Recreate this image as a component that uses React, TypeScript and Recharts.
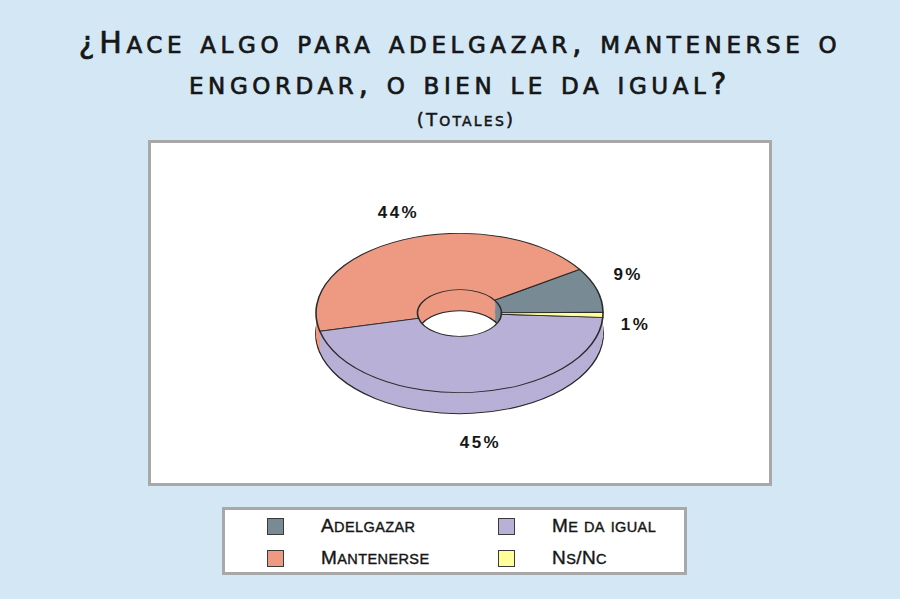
import React from "react";
import { PieChart, Pie, Cell } from "recharts";

// ─── Data ─────────────────────────────────────────────────────────────────────

const categories = ["Adelgazar", "Mantenerse", "Me da igual", "Ns/Nc"];
const values = [9, 44, 45, 1];
const colors = ["#788a94", "#ee9a82", "#b8b0d6", "#ffff99"];

const data = categories.map((name, i) => ({ name, value: values[i] }));

// ─── Tilted donut geometry ────────────────────────────────────────────────────

const K = 0.555;              // vertical squish that fakes the 3D tilt
const SVG_H = Math.ceil(599 / K);
const CX = 459.5;
const CY = 313 / K;
const OUTER = 143.5;
const INNER = 42;
const WALL = 21;              // wall thickness on screen
const DEPTH = WALL / K;

// wall layers, bottom first
const wallOffsets: number[] = [];
for (let d = DEPTH; d > 0; d -= 2) wallOffsets.push(d);

const RAD = Math.PI / 180;

// labels sit just outside the rim, above it on the upper half, below the wall on the lower half
const renderLabel = (p: any) => {
  const a = p.midAngle * RAD;
  const sn = Math.sin(a);
  const x = p.cx + 6 + 170 * Math.cos(a);
  const yScreen = sn >= 0 ? -100 * sn - 9 : -(100 + WALL) * sn + 9;
  const y = p.cy + yScreen / K;
  return (
    <g transform={`translate(${x},${y}) scale(1,${1 / K})`}>
      <text
        x={0}
        y={0}
        textAnchor="middle"
        dominantBaseline="central"
        fill="#161616"
        fontFamily="'Liberation Sans', Arial, sans-serif"
        fontWeight="bold"
        fontSize={17}
        letterSpacing={2.5}
      >
        {`${p.value}%`}
      </text>
    </g>
  );
};

// hand-made small caps: lowercase runs drawn as smaller capitals
const SmallCaps = ({ text, small }: { text: string; small: number }) => {
  const parts = text.match(/[a-zñáéíóú]+|[^a-zñáéíóú]+/g) || [];
  return (
    <>
      {parts.map((p, i) =>
        /[a-zñáéíóú]/.test(p[0])
          ? <span key={i} style={{ fontSize: small }}>{p.toUpperCase()}</span>
          : <span key={i}>{p}</span>
      )}
    </>
  );
};

export default function App() {
  return (
    <div style={s.page}>
      <div style={{ ...s.title, top: 22 }}>
        <SmallCaps text="¿Hace algo para adelgazar, mantenerse o" small={23} />
      </div>
      <div style={{ ...s.title, top: 63 }}>
        <SmallCaps text="engordar, o bien le da igual?" small={23} />
      </div>
      <div style={s.sub}>
        <SmallCaps text="(Totales)" small={14} />
      </div>

      <div style={s.plot} />

      <div style={s.tilt}>
        <PieChart width={900} height={SVG_H} margin={{ top: 0, right: 0, bottom: 0, left: 0 }}>
          {wallOffsets.map((d, li) => (
            <Pie
              key={`wall-${li}`}
              data={data}
              dataKey="value"
              cx={CX}
              cy={CY + d}
              innerRadius={INNER}
              outerRadius={OUTER}
              startAngle={0.5}
              endAngle={360.5}
              isAnimationActive={false}
              stroke={li === 0 ? "#2b2b2b" : "none"}
              strokeWidth={li === 0 ? 1.8 : 0}
            >
              {data.map((_e, i) => (
                <Cell
                  key={i}
                  fill={colors[i]}
                  stroke={li === 0 ? "#2b2b2b" : "none"}
                  strokeWidth={li === 0 ? 1.8 : 0}
                />
              ))}
            </Pie>
          ))}
          <Pie
            data={data}
            dataKey="value"
            cx={CX}
            cy={CY}
            innerRadius={INNER}
            outerRadius={OUTER}
            startAngle={0.5}
            endAngle={360.5}
            isAnimationActive={false}
            labelLine={false}
            label={renderLabel}
            stroke="#2b2b2b"
            strokeWidth={1.6}
          >
            {data.map((_e, i) => (
              <Cell key={i} fill={colors[i]} stroke="#2b2b2b" strokeWidth={1.6} />
            ))}
          </Pie>
        </PieChart>
      </div>

      <div style={s.legend}>
        {categories.map((name, i) => (
          <div key={name} style={s.legendItem}>
            <span style={{ ...s.swatch, background: colors[i] }} />
            <span><SmallCaps text={name} small={14.5} /></span>
          </div>
        ))}
      </div>
    </div>
  );
}

const s: Record<string, React.CSSProperties> = {
  page: {
    position: "absolute", left: 0, top: 0, width: 900, height: 599,
    background: "#d3e7f5", overflow: "hidden",
    fontFamily: "'DejaVu Sans', sans-serif", color: "#161616",
  },
  title: {
    position: "absolute", left: 10, width: 900, textAlign: "center", whiteSpace: "nowrap",
    fontSize: 30, lineHeight: "41px", letterSpacing: 4.6,
    WebkitTextStroke: "0.7px #161616",
  },
  sub: {
    position: "absolute", left: 16, width: 900, top: 107, textAlign: "center",
    fontSize: 18, lineHeight: "26px", letterSpacing: 2.2,
    WebkitTextStroke: "0.5px #161616",
  },
  plot: {
    position: "absolute", left: 148, top: 140, width: 624, height: 346,
    boxSizing: "border-box", border: "3px solid #a8a8a8", background: "#fff",
  },
  tilt: {
    position: "absolute", left: 0, top: 0, width: 900, height: SVG_H,
    transform: `scaleY(${K})`, transformOrigin: "0 0", pointerEvents: "none",
  },
  legend: {
    position: "absolute", left: 222, top: 507, width: 465, height: 68,
    boxSizing: "border-box", border: "3px solid #a8a8a8", background: "#fff",
    display: "grid", gridAutoFlow: "column",
    gridTemplateRows: "32px 32px", gridTemplateColumns: "231px 231px",
    paddingLeft: 42, fontFamily: "'Liberation Sans', Arial, sans-serif",
    fontSize: 19, letterSpacing: 0.4, WebkitTextStroke: "0.4px #161616",
  },
  legendItem: { display: "flex", alignItems: "center" },
  swatch: {
    display: "inline-block", width: 17, height: 17, boxSizing: "border-box",
    border: "1px solid #3a3a3a", marginRight: 37,
  },
};
